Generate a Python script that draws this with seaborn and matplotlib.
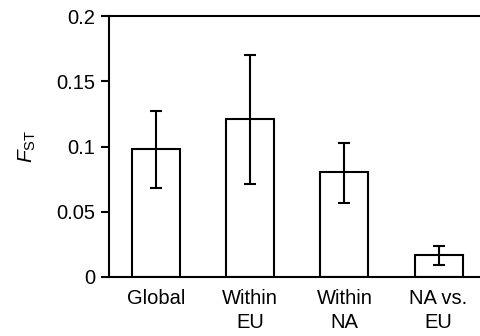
import numpy as np
import pandas as pd
import seaborn as sns
import matplotlib.pyplot as plt

categories = ["Global", "Within\nEU", "Within\nNA", "NA vs.\nEU"]
fst = [0.098, 0.121, 0.0805, 0.0166]
err_low = [0.068, 0.0715, 0.057, 0.0092]
err_high = [0.127, 0.170, 0.1025, 0.024]

df = pd.DataFrame({"group": categories, "fst": fst})

sns.set_style("white")
plt.rcParams["font.family"] = ["Liberation Sans", "DejaVu Sans"]
plt.rcParams["mathtext.fontset"] = "custom"
plt.rcParams["mathtext.it"] = "Liberation Sans:italic"
plt.rcParams["mathtext.rm"] = "Liberation Sans"
plt.rcParams["text.color"] = "black"
plt.rcParams["axes.labelcolor"] = "black"
plt.rcParams["xtick.color"] = "black"
plt.rcParams["ytick.color"] = "black"

fig = plt.figure(figsize=(4.8, 3.36), dpi=100)
ax = fig.add_axes([0.227, 0.1756, 0.773, 0.7764])

sns.barplot(data=df, x="group", y="fst", color="white", edgecolor="black",
            linewidth=1.5, width=0.51, ax=ax)

x = np.arange(len(categories))
yerr = [np.array(fst) - np.array(err_low), np.array(err_high) - np.array(fst)]
ax.errorbar(x, fst, yerr=yerr, fmt="none", ecolor="black", elinewidth=1.5,
            capsize=4.5, capthick=1.5)

ax.set_xlim(-0.5, 3.44)
ax.set_ylim(0, 0.2)
ax.set_yticks([0, 0.05, 0.1, 0.15, 0.2])
ax.set_yticklabels(["0", "0.05", "0.1", "0.15", "0.2"])
ax.tick_params(axis="y", direction="out", length=6, width=1.5, labelsize=14.5, pad=4,
               left=True, colors="black")
ax.tick_params(axis="x", length=0, labelsize=14.5, pad=9, colors="black")
for lab in ax.get_xticklabels():
    lab.set_linespacing(1.3)
ax.set_xlabel("")
ax.set_ylabel(r"$\mathit{F}_{\mathrm{ST}}$", fontsize=15, labelpad=13, color="black")

for side in ["left", "bottom", "top"]:
    ax.spines[side].set_visible(True)
    ax.spines[side].set_linewidth(1.5)
    ax.spines[side].set_color("black")
ax.spines["right"].set_visible(False)

fig.savefig("out.png", dpi=100)
